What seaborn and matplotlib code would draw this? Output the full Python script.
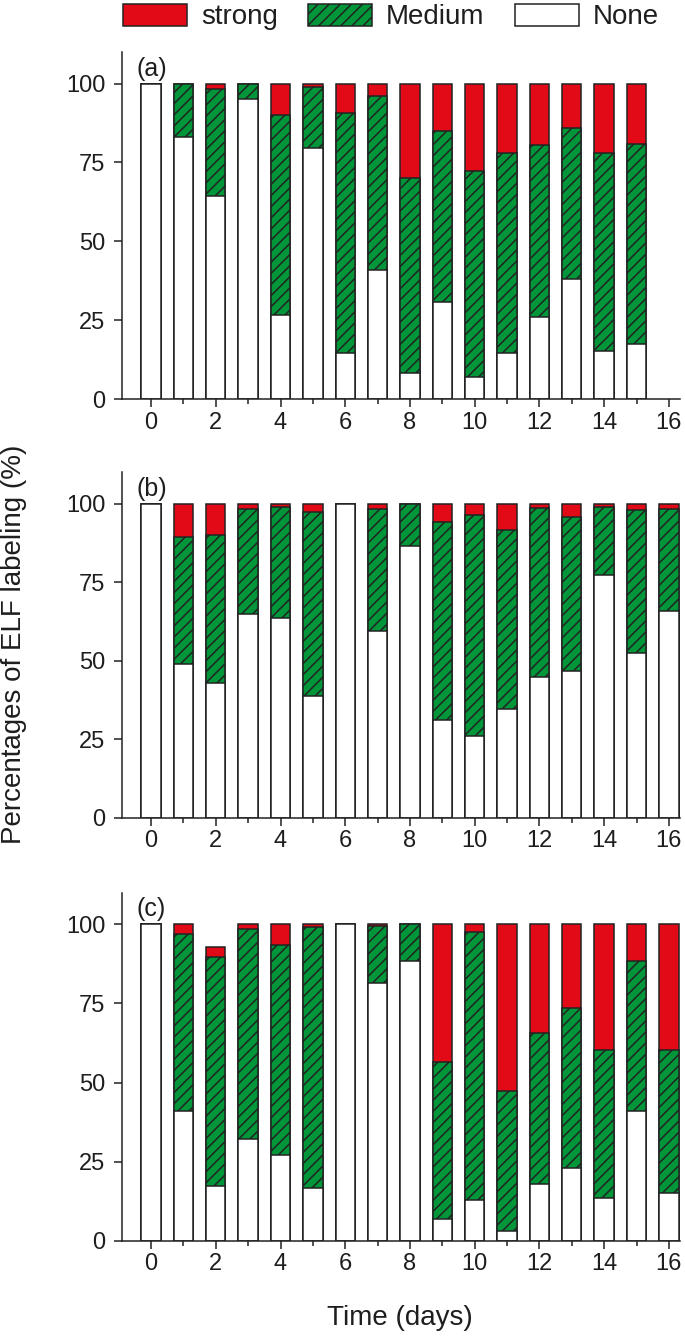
import numpy as np
import pandas as pd
import matplotlib
matplotlib.use("Agg")
import matplotlib.pyplot as plt
from matplotlib.patches import Patch
from matplotlib.ticker import MultipleLocator
import seaborn as sns

# ==================== DATA ====================
days = list(range(17))
nan = np.nan

none_a = [100, 82.9, 64.2, 95.2, 26.5, 79.7, 14.5, 40.8, 8.4, 30.7, 6.9, 14.5, 26.1, 37.9, 15.1, 17.5, nan]
medium_a = [0, 17.1, 34.2, 4.8, 63.6, 19.2, 76.1, 55.1, 61.8, 54.3, 65.4, 63.6, 54.3, 47.9, 62.8, 63.3, nan]
strong_a = [0, 0, 1.6, 0, 9.9, 1.1, 9.4, 4.1, 29.8, 15.0, 27.7, 21.9, 19.6, 14.2, 22.1, 19.2, nan]

none_b = [100, 49.0, 42.8, 64.9, 63.6, 38.7, 100, 59.6, 86.6, 31.3, 26.0, 34.7, 44.9, 46.9, 77.2, 52.6, 65.9]
medium_b = [0, 40.4, 47.3, 33.4, 35.3, 58.7, 0, 38.6, 13.4, 63.0, 70.3, 57.0, 53.6, 49.0, 21.6, 45.4, 32.5]
strong_b = [0, 10.6, 9.7, 1.7, 1.1, 2.6, 0, 1.8, 0, 5.7, 3.7, 8.3, 1.5, 4.1, 1.2, 2.0, 1.6]

none_c = [100, 40.9, 17.4, 32.1, 27.0, 16.6, 100, 81.4, 88.3, 6.8, 12.8, 3.0, 18.1, 23.1, 13.5, 40.9, 15.1]
medium_c = [0, 55.9, 72.4, 66.3, 66.6, 82.5, 0, 18.0, 11.7, 49.8, 84.6, 44.5, 47.6, 50.3, 46.9, 47.5, 45.1]
strong_c = [0, 3.2, 3.0, 1.6, 6.4, 0.9, 0, 0.6, 0, 43.4, 2.6, 52.5, 34.3, 26.6, 39.6, 11.6, 39.8]

panels = [("(a)", none_a, medium_a, strong_a),
          ("(b)", none_b, medium_b, strong_b),
          ("(c)", none_c, medium_c, strong_c)]

RED = "#E30A17"
GREEN = "#009639"
EDGE = "#222222"
TEXT = "#1e1e1e"

# ==================== STYLE ====================
sns.set_style("ticks")
plt.rcParams['font.family'] = ['Liberation Sans', 'DejaVu Sans']
plt.rcParams['hatch.linewidth'] = 1.1
plt.rcParams['hatch.color'] = EDGE
plt.rcParams['axes.linewidth'] = 1.1
plt.rcParams['axes.edgecolor'] = EDGE
plt.rcParams['xtick.color'] = EDGE
plt.rcParams['ytick.color'] = EDGE
plt.rcParams['text.color'] = TEXT
plt.rcParams['xtick.labelcolor'] = TEXT
plt.rcParams['ytick.labelcolor'] = TEXT

fig = plt.figure(figsize=(6.85, 13.4), dpi=100)
positions = [
    [0.178, 0.7022, 0.815, 0.259],
    [0.178, 0.3896, 0.815, 0.258],
    [0.178, 0.0739, 0.815, 0.260],
]

for (label, none, medium, strong), pos in zip(panels, positions):
    ax = fig.add_axes(pos)
    df = pd.DataFrame({"day": days, "none": none, "medium": medium, "strong": strong})
    df["mid"] = df["none"] + df["medium"]
    df["total"] = df["mid"] + df["strong"]
    df = df.dropna()

    # stacked bars: draw the cumulative heights back to front
    common = dict(native_scale=True, width=0.6, errorbar=None, saturation=1,
                  edgecolor=EDGE, linewidth=1.1, ax=ax)
    sns.barplot(data=df, x="day", y="total", color=RED, **common)
    sns.barplot(data=df, x="day", y="mid", color=GREEN, hatch="///", **common)
    sns.barplot(data=df, x="day", y="none", color="white", **common)

    ax.set_xlim(-0.9, 16.35)
    ax.set_ylim(0, 110)
    ax.set_xticks(range(0, 17, 2))
    ax.xaxis.set_minor_locator(MultipleLocator(1))
    ax.set_yticks([0, 25, 50, 75, 100])
    ax.tick_params(axis='both', which='major', labelsize=17, length=6, width=1.1)
    ax.tick_params(axis='y', which='major', pad=6)
    ax.tick_params(axis='x', which='major', pad=3)
    ax.tick_params(axis='x', which='minor', length=3.5, width=1.1)
    ax.tick_params(axis='y', which='minor', left=False)
    ax.set_xlabel("")
    ax.set_ylabel("")
    sns.despine(ax=ax)
    ax.text(-0.45, 102.5, label, fontsize=18, va='baseline', ha='left')

# ==================== LABELS & LEGEND ====================
fig.text(14 / 685, 1 - 644 / 1340, "Percentages of ELF labeling (%)", rotation=90,
         va='center', ha='center', fontsize=20)
fig.text(400 / 685, 1 - 1318 / 1340, "Time (days)", va='center', ha='center', fontsize=20)

handles = [
    Patch(facecolor=RED, edgecolor=EDGE, linewidth=1.1, label="strong"),
    Patch(facecolor=GREEN, edgecolor=EDGE, linewidth=1.1, hatch="///", label="Medium"),
    Patch(facecolor="white", edgecolor=EDGE, linewidth=1.1, label="None"),
]
fig.legend(handles=handles, loc='center', bbox_to_anchor=(391 / 685, 1 - 17 / 1340), ncol=3,
           frameon=False, fontsize=20, handlelength=2.3, handleheight=0.85,
           columnspacing=1.1, handletextpad=0.5, borderaxespad=0, borderpad=0)

fig.savefig("out.png", dpi=100)
